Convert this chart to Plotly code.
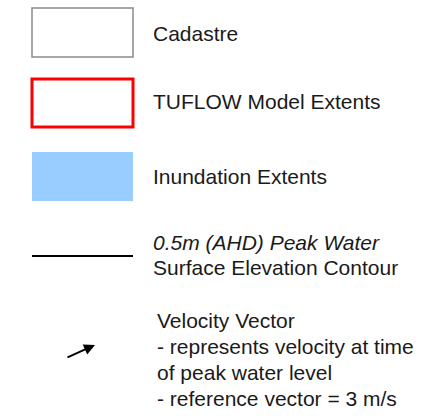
import plotly.graph_objects as go

W, H = 443, 420

# Legend content
labels = ["Cadastre", "TUFLOW Model Extents", "Inundation Extents"]
label_y = [33.5, 101.5, 176.5]
contour_lines = ["<i>0.5m (AHD) Peak Water</i>", "Surface Elevation Contour"]
contour_y = [242, 267]
vector_lines = ["Velocity Vector", "- represents velocity at time",
                "of peak water level", "- reference vector = 3 m/s"]
vector_y = [320.5, 346, 372, 398.5]

FONT = dict(family="Liberation Sans, Arial, sans-serif", size=21, color="#1a1a1a")

fig = go.Figure()
fig.add_trace(go.Scatter(x=[0, W], y=[0, H], mode="markers",
                         marker=dict(opacity=0), hoverinfo="skip", showlegend=False))

shapes = [
    dict(type="rect", x0=32, x1=133, y0=8, y1=57, line=dict(color="#8a8a8a", width=1.5)),
    dict(type="rect", x0=32, x1=133, y0=79, y1=127, line=dict(color="#ff0000", width=3)),
    dict(type="rect", x0=32, x1=133, y0=152, y1=201, line=dict(width=0), fillcolor="#99ccff"),
    dict(type="line", x0=32, x1=133, y0=256, y1=256, line=dict(color="#000000", width=2)),
]
fig.update_layout(shapes=shapes)

for t, y in zip(labels, label_y):
    fig.add_annotation(x=151, y=y, text=t, showarrow=False, xanchor="left", yanchor="middle", font=FONT)
for t, y in zip(contour_lines, contour_y):
    fig.add_annotation(x=151, y=y, text=t, showarrow=False, xanchor="left", yanchor="middle", font=FONT)
for t, y in zip(vector_lines, vector_y):
    fig.add_annotation(x=155, y=y, text=t, showarrow=False, xanchor="left", yanchor="middle", font=FONT)

# velocity arrow
fig.add_annotation(x=95, y=345, ax=66, ay=358, xref="x", yref="y", axref="x", ayref="y",
                   text="", showarrow=True, arrowhead=2, arrowsize=1.1, arrowwidth=2, arrowcolor="#000000")

fig.update_xaxes(range=[0, W], visible=False, fixedrange=True)
fig.update_yaxes(range=[H, 0], visible=False, fixedrange=True)
fig.update_layout(width=W, height=H, margin=dict(l=0, r=0, t=0, b=0),
                  plot_bgcolor="white", paper_bgcolor="white")

fig.write_html("out.html", config={"displayModeBar": False},
               post_script="document.body.style.margin='0';document.body.style.overflow='hidden';")
